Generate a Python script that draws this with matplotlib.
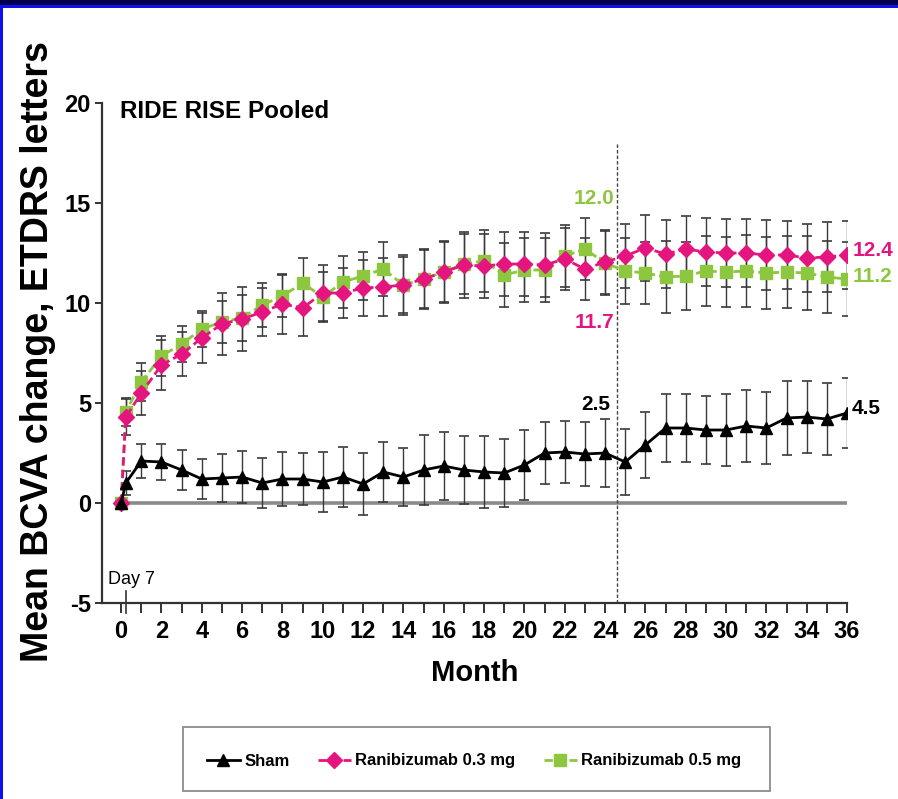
"""Mean BCVA change over 36 months, RIDE/RISE pooled."""

import matplotlib

matplotlib.use("Agg")
import matplotlib.pyplot as plt
from matplotlib.patches import Rectangle

plt.rcParams["font.family"] = ["Liberation Sans", "DejaVu Sans"]
plt.rcParams["axes.unicode_minus"] = False

# x positions: baseline, day 7, then monthly visits
months = [0, 0.23, 1, 2, 3, 4, 5, 6, 7, 8, 9, 10, 11, 12, 13, 14, 15, 16, 17, 18,
          19, 20, 21, 22, 23, 24, 25, 26, 27, 28, 29, 30, 31, 32, 33, 34, 35, 36]

sham = [0.0, 1.0, 2.1, 2.05, 1.65, 1.2, 1.25, 1.3, 1.0, 1.2, 1.2, 1.05, 1.3, 0.95,
        1.55, 1.3, 1.65, 1.85, 1.65, 1.55, 1.5, 1.9, 2.5, 2.55, 2.45, 2.5, 2.05,
        2.9, 3.75, 3.75, 3.65, 3.65, 3.85, 3.75, 4.25, 4.3, 4.2, 4.5]
sham_err = [0, 0.6, 0.85, 0.9, 1.0, 1.0, 1.2, 1.3, 1.25, 1.35, 1.3, 1.5, 1.5, 1.55,
            1.5, 1.45, 1.75, 1.7, 1.7, 1.8, 1.7, 1.75, 1.55, 1.55, 1.6, 1.7, 1.65,
            1.65, 1.7, 1.7, 1.7, 1.8, 1.8, 1.8, 1.85, 1.8, 1.8, 1.75]

rbz03 = [0.0, 4.3, 5.5, 6.9, 7.45, 8.25, 8.95, 9.2, 9.55, 9.95, 9.75, 10.5, 10.5,
         10.75, 10.8, 10.9, 11.2, 11.55, 11.9, 11.85, 11.95, 11.95, 11.9, 12.2, 11.7,
         12.05, 12.35, 12.75, 12.45, 12.7, 12.55, 12.5, 12.5, 12.4, 12.4, 12.25,
         12.3, 12.4]
rbz03_err = [0, 0.9, 1.1, 1.25, 1.1, 1.25, 1.55, 1.6, 1.2, 1.5, 1.4, 1.4, 1.25,
             1.4, 1.45, 1.5, 1.5, 1.55, 1.65, 1.6, 1.6, 1.6, 1.6, 1.55, 1.55, 1.6,
             1.6, 1.65, 1.7, 1.65, 1.7, 1.7, 1.7, 1.75, 1.7, 1.7, 1.75, 1.7]

rbz05 = [0.0, 4.55, 6.05, 7.35, 7.95, 8.7, 9.05, 9.25, 9.9, 10.35, 11.0, 10.3,
         11.05, 11.35, 11.7, 10.9, 11.2, 11.55, 11.95, 12.1, 11.4, 11.65, 11.65,
         12.35, 12.7, 12.0, 11.6, 11.5, 11.3, 11.35, 11.6, 11.55, 11.6, 11.5, 11.55,
         11.5, 11.3, 11.2]
rbz05_err = [0, 0.7, 0.95, 1.0, 0.9, 0.9, 1.05, 1.15, 1.1, 1.05, 1.25, 1.25, 1.3,
             1.2, 1.35, 1.4, 1.45, 1.5, 1.5, 1.55, 1.6, 1.6, 1.6, 1.55, 1.55, 1.6,
             1.65, 1.55, 1.8, 1.7, 1.75, 1.75, 1.8, 1.8, 1.8, 1.85, 1.8, 1.85]

tick_months = [0, 1, 2, 3, 4, 5, 6, 7, 8, 9, 10, 11, 12, 13, 14, 15, 16, 17, 18,
               19, 20, 21, 22, 23, 24, 25, 26, 27, 28, 29, 30, 31, 32, 33, 34, 35, 36]
y_ticks = [-5, 0, 5, 10, 15, 20]

PINK = "#e5157f"
GREEN = "#8dc63f"
ERR = "#3a3a3a"

fig = plt.figure(figsize=(8.98, 7.99), dpi=100)
fig.patch.set_facecolor("white")
# slide frame: navy bar on top, blue edge on the left
fig.add_artist(Rectangle((0, 1 - 6 / 799), 1, 6 / 799, transform=fig.transFigure,
                         facecolor="#00004d", edgecolor="none"))
fig.add_artist(Rectangle((0, 1 - 8 / 799), 1, 2.5 / 799, transform=fig.transFigure,
                         facecolor="#1010ee", edgecolor="none"))
fig.add_artist(Rectangle((0, 0), 3 / 898, 1 - 6 / 799, transform=fig.transFigure,
                         facecolor="#1010ee", edgecolor="none"))

ax = fig.add_axes([102 / 898, 1 - 603 / 799, (847 - 102) / 898, 500 / 799])
ax.set_xlim(-0.95, 36)
ax.set_ylim(-5, 20)

ax.plot([0, 36], [0, 0], color="#8a8a8a", lw=2.6, zorder=1, solid_capstyle="butt")
ax.plot([24.6, 24.6], [-5, 18], color="#444444", lw=1.0, ls=(0, (2.5, 1.5)), zorder=1)

series = [
    (rbz05, rbz05_err, GREEN, "s", 9, (0, (3, 1.5)), "Ranibizumab 0.5 mg", 3),
    (rbz03, rbz03_err, PINK, "D", 8, (0, (3, 1.5)), "Ranibizumab 0.3 mg", 4),
    (sham, sham_err, "black", "^", 9, "-", "Sham", 5),
]
handles = {}
for vals, errs, col, mk, ms, ls, name, z in series:
    ax.errorbar(months, vals, yerr=errs, fmt="none", ecolor=ERR, elinewidth=1.0,
                capsize=3.5, capthick=1.2, zorder=2)
    line, = ax.plot(months, vals, color=col, ls=ls, lw=2.0, marker=mk, ms=ms,
                    mec=col, mfc=col, zorder=z, label=name)
    handles[name] = line

for side in ("top", "right"):
    ax.spines[side].set_visible(False)
for side in ("left", "bottom"):
    ax.spines[side].set_linewidth(1.6)
    ax.spines[side].set_color("#333333")

ax.set_xticks(tick_months)
ax.set_xticklabels([str(m) if m % 2 == 0 else "" for m in tick_months])
ax.set_yticks(y_ticks)
ax.tick_params(axis="x", direction="out", length=7, width=1.4, color="#333333",
               labelsize=17, pad=5)
ax.tick_params(axis="y", direction="out", length=5, width=1.4, color="#333333",
               labelsize=17, pad=3)
for lab in ax.get_xticklabels() + ax.get_yticklabels():
    lab.set_fontweight("bold")

# day-7 visit marker on the axis
ax.plot([0.23, 0.23], [-5.5, -4.4], color="#333333", lw=1.2, clip_on=False, zorder=6)
ax.text(-0.65, -3.8, "Day 7", fontsize=13, ha="left", va="center")

ax.set_xlabel("Month", fontsize=21, fontweight="bold", labelpad=12)
fig.text(38 / 898, 1 - 352 / 799, "Mean BCVA change, ETDRS letters",
         fontsize=27, fontweight="bold", rotation=90, ha="center", va="center")
ax.text(-0.05, 19.6, "RIDE RISE Pooled", fontsize=17.5, fontweight="bold",
        ha="left", va="center")

# value call-outs at month 24 and month 36
lab_kw = dict(fontsize=15, fontweight="bold", va="center")
ax.text(23.45, 15.2, "12.0", color=GREEN, ha="center", **lab_kw)
ax.text(23.45, 9.0, "11.7", color=PINK, ha="center", **lab_kw)
ax.text(23.55, 4.95, "2.5", color="black", ha="center", **lab_kw)
ax.text(36.3, 12.65, "12.4", color=PINK, ha="left", **lab_kw)
ax.text(36.3, 11.3, "11.2", color=GREEN, ha="left", **lab_kw)
ax.text(36.25, 4.7, "4.5", color="black", ha="left", **lab_kw)

# legend box below the axes
fig.add_artist(Rectangle((183 / 898, 8 / 799), 587 / 898, 64 / 799,
                         transform=fig.transFigure, facecolor="white",
                         edgecolor="#8c8c8c", lw=1.3))
leg = fig.legend([handles["Sham"], handles["Ranibizumab 0.3 mg"], handles["Ranibizumab 0.5 mg"]],
                 ["Sham", "Ranibizumab 0.3 mg", "Ranibizumab 0.5 mg"],
                 loc="center", bbox_to_anchor=(474 / 898, 1 - 761 / 799), ncol=3,
                 handlelength=2.0, handletextpad=0.25, columnspacing=1.7,
                 frameon=False, prop={"weight": "bold", "size": 12})

fig.savefig("out.png", dpi=100)
